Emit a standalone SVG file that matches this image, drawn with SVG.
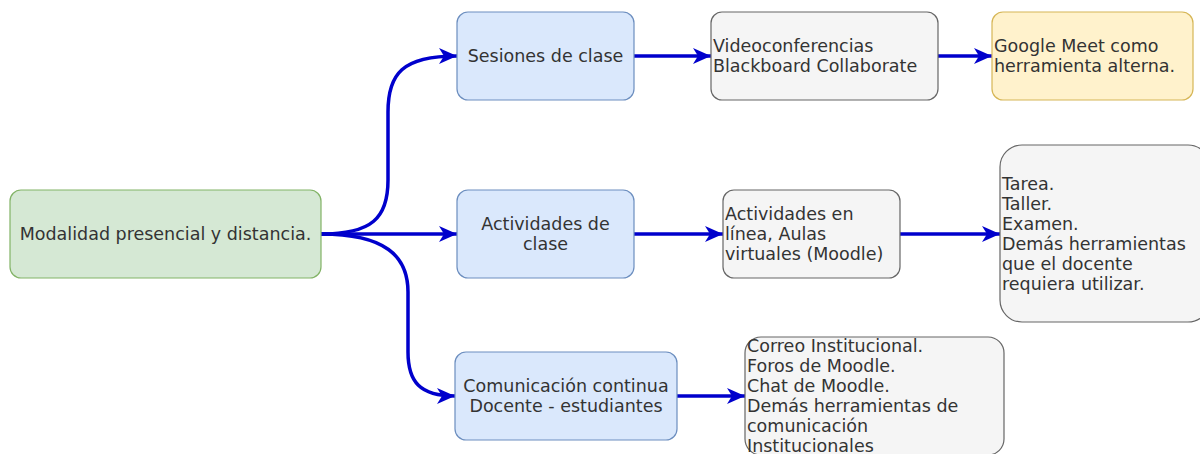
<svg xmlns="http://www.w3.org/2000/svg" width="1200" height="454" viewBox="0 0 1200 454">
<defs>
<style>
text{font-family:"DejaVu Sans",Verdana,sans-serif;font-size:17.5px;fill:#333}
.c{text-anchor:middle}
.g rect{fill:#d5e8d4;stroke:#82b366;stroke-width:1.2}
.b rect{fill:#dae8fc;stroke:#6c8ebf;stroke-width:1.2}
.s rect{fill:#f5f5f5;stroke:#666666;stroke-width:1.2}
.y rect{fill:#fff2cc;stroke:#d6b656;stroke-width:1.2}
.e{fill:none;stroke:#0000cc;stroke-width:3.5;marker-end:url(#a)}
</style>
<marker id="a" markerUnits="userSpaceOnUse" markerWidth="22" markerHeight="22" viewBox="0 0 22 22" refX="20" refY="11" orient="auto">
<path d="M2,3 L20,11 L2,19 L7,11 Z" fill="#0000cc"/>
</marker>
</defs>
<g id="connectors">
<path class="e" d="M321,234 C372,234 388,218 388,180 L388,112 C388,74 402,56 457,56"/>
<path class="e" d="M321,234 L457,234"/>
<path class="e" d="M321,234 C385,234 408,256 408,292 L408,352 C408,382 420,396 455,396"/>
<path class="e" d="M634,56 L711,56"/>
<path class="e" d="M938,56 L992,56"/>
<path class="e" d="M634,234 L723,234"/>
<path class="e" d="M900,234 L1000,234"/>
<path class="e" d="M677,396 L745,396"/>
</g>
<g id="root" class="g"><rect x="10" y="190" width="311" height="88" rx="11"/><text class="c" x="165.5" y="240">Modalidad presencial y distancia.</text></g>
<g id="sesiones" class="b"><rect x="457" y="12" width="177" height="88" rx="11"/><text class="c" x="545.5" y="62">Sesiones de clase</text></g>
<g id="actividades" class="b"><rect x="457" y="190" width="177" height="88" rx="11"/><text class="c" x="545.5" y="230">Actividades de</text><text class="c" x="545.5" y="250">clase</text></g>
<g id="comunicacion" class="b"><rect x="455" y="352" width="222" height="88" rx="11"/><text class="c" x="566" y="392">Comunicación continua</text><text class="c" x="566" y="412">Docente - estudiantes</text></g>
<g id="video" class="s"><rect x="711" y="12" width="227" height="88" rx="11"/><text x="713" y="52">Videoconferencias</text><text x="713" y="72">Blackboard Collaborate</text></g>
<g id="meet" class="y"><rect x="992" y="12" width="201" height="88" rx="11"/><text x="994" y="52">Google Meet como</text><text x="994" y="72">herramienta alterna.</text></g>
<g id="enlinea" class="s"><rect x="723" y="190" width="177" height="88" rx="11"/><text x="725" y="220">Actividades en</text><text x="725" y="240">línea, Aulas</text><text x="725" y="260">virtuales (Moodle)</text></g>
<g id="tareas" class="s"><rect x="1000" y="145" width="210" height="177" rx="22"/><text x="1002" y="190">Tarea.</text><text x="1002" y="210">Taller.</text><text x="1002" y="230">Examen.</text><text x="1002" y="250">Demás herramientas</text><text x="1002" y="270">que el docente</text><text x="1002" y="290">requiera utilizar.</text></g>
<g id="correo" class="s"><rect x="745" y="337" width="259" height="118" rx="16"/><text x="747" y="352">Correo Institucional.</text><text x="747" y="372">Foros de Moodle.</text><text x="747" y="392">Chat de Moodle.</text><text x="747" y="412">Demás herramientas de</text><text x="747" y="432">comunicación</text><text x="747" y="452">Institucionales</text></g>
</svg>
